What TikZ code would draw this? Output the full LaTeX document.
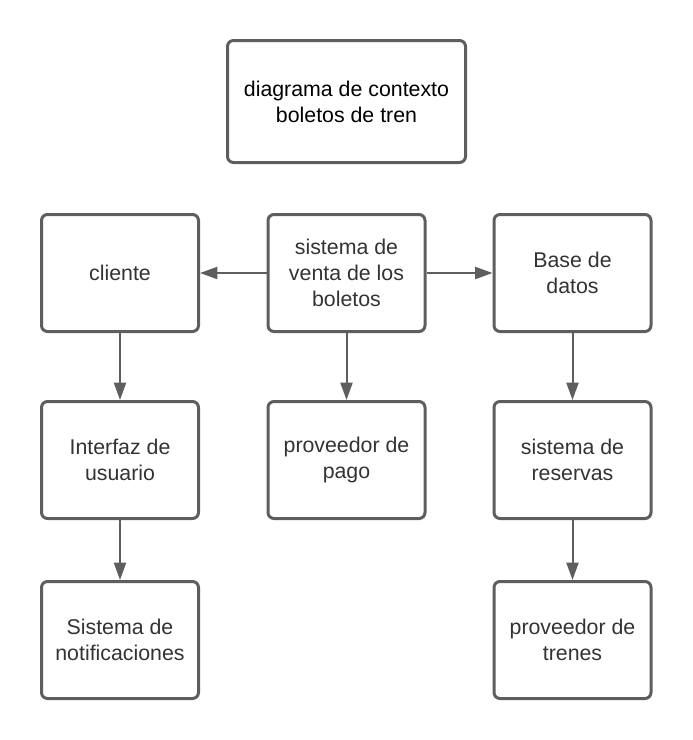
\documentclass[tikz,border=0pt]{standalone}
\usepackage{fontspec}
\setmainfont{Liberation Sans}
\usetikzlibrary{arrows.meta}
\usepackage{xcolor}
\definecolor{boxgray}{HTML}{5E5E5E}
\definecolor{textgray}{HTML}{333333}

\tikzset{
	box/.style={draw=boxgray, line width=2.25pt, rounded corners=4.5pt, fill=white,
		minimum width=117.75pt, minimum height=87.75pt, align=center, text=textgray,
		font=\fontsize{16}{19.5}\selectfont},
	flow/.style={draw=boxgray, line width=1.5pt, -{Triangle[length=13pt,width=9pt]}}
}

\begin{document}
\begin{tikzpicture}[x=0.75pt, y=-0.75pt]
	\useasboundingbox (0,0) rectangle (693,740);
	\node (titulo) [box, minimum width=178.5pt, minimum height=91.5pt, text=black] at (346.5, 101.5) {diagrama de contexto\\boletos de tren};
	\node (cliente) [box] at (120, 273) {cliente};
	\node (venta) [box] at (346.5, 273) {sistema de\\venta de los\\boletos};
	\node (base) [box] at (572.5, 273) {Base de\\datos};
	\node (interfaz) [box] at (120, 460) {Interfaz de\\usuario};
	\node (pago) [box] at (346.5, 460) {proveedor de\\pago};
	\node (reservas) [box] at (572.5, 460) {sistema de\\reservas};
	\node (notif) [box] at (120, 640) {Sistema de\\notificaciones};
	\node (trenes) [box] at (572.5, 640) {proveedor de\\trenes};
	\draw[flow] (venta) -- (cliente);
	\draw[flow] (venta) -- (base);
	\draw[flow] (venta) -- (pago);
	\draw[flow] (cliente) -- (interfaz);
	\draw[flow] (interfaz) -- (notif);
	\draw[flow] (base) -- (reservas);
	\draw[flow] (reservas) -- (trenes);
\end{tikzpicture}
\end{document}
